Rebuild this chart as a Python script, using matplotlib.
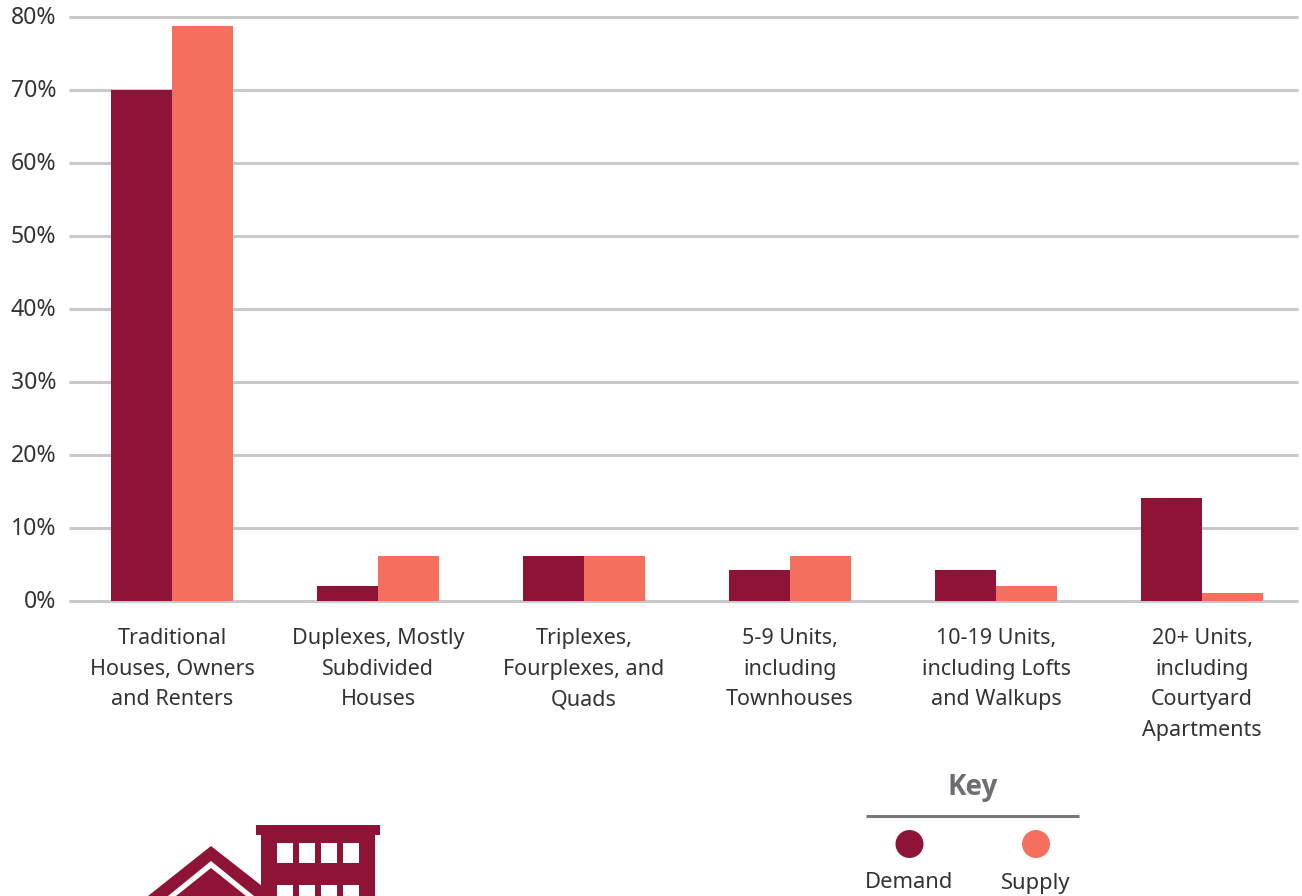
import numpy as np
from matplotlib import pyplot as plt
from matplotlib.patches import Polygon, Rectangle, Circle
from matplotlib.transforms import ScaledTranslation

W, H = 1302, 896
dark = '#8f1336'
coral = '#f46f5c'
grid = '#c8c8ca'
txt = '#333333'

plt.rcParams['font.family'] = ['Noto Sans', 'DejaVu Sans']

categories = ['Traditional\nHouses, Owners\nand Renters',
              'Duplexes, Mostly\nSubdivided\nHouses',
              'Triplexes,\nFourplexes, and\nQuads',
              '5-9 Units,\nincluding\nTownhouses',
              '10-19 Units,\nincluding Lofts\nand Walkups',
              '20+ Units,\nincluding\nCourtyard\nApartments']
demand = [70, 2, 6.2, 4.2, 4.2, 14.1]
supply = [78.7, 6.2, 6.2, 6.2, 2, 1.1]
yticks = [0, 10, 20, 30, 40, 50, 60, 70, 80]

fig = plt.figure(figsize=(W / 100, H / 100), dpi=100)

# chart area, in fractions of the figure
ax = fig.add_axes([69 / W, 1 - 601 / H, (1298 - 69) / W, (601 - 17) / H])
x = np.arange(len(categories))
bw = 0.296
ax.bar(x - bw / 2, demand, bw, color=dark, zorder=3)
ax.bar(x + bw / 2, supply, bw, color=coral, zorder=3)
ax.set_xlim(-0.5, 5.466)
ax.set_ylim(0, 80)
ax.set_yticks(yticks)
ax.set_yticklabels([str(v) + '%' for v in yticks], fontsize=16.6, color=txt)
ax.set_xticks(x)
ax.set_xticklabels(categories, fontsize=15.5, color=txt, linespacing=1.6)
ax.tick_params(axis='both', length=0)
ax.tick_params(axis='y', pad=9)
ax.tick_params(axis='x', pad=19.5)
ax.grid(axis='y', color=grid, lw=2.2, zorder=1, solid_capstyle='butt')
ax.set_axisbelow(True)
for s in ax.spines.values():
    s.set_visible(False)
for g in ax.get_ygridlines():
    g.set_clip_on(False)
# percent labels sit a little above their gridlines
up = ScaledTranslation(0, 2 / 100, fig.dpi_scale_trans)
for t in ax.get_yticklabels():
    t.set_transform(t.get_transform() + up)

# key and icon, drawn in pixel coordinates
ov = fig.add_axes([0, 0, 1, 1])
ov.set_xlim(0, W)
ov.set_ylim(H, 0)
ov.axis('off')
ov.patch.set_alpha(0)

ov.text(973, 788, 'Key', fontsize=20, fontweight='bold', family=['Open Sans', 'DejaVu Sans'],
        color='#6d6e71', ha='center', va='center')
ov.plot([866, 1079], [816.5, 816.5], color='#77787b', lw=2.2, solid_capstyle='butt')
ov.add_patch(Circle((909.5, 844), 14, color=dark, lw=0))
ov.add_patch(Circle((1036, 844), 14, color=coral, lw=0))
ov.text(909.5, 883, 'Demand', fontsize=15.8, color=txt, ha='center', va='center')
ov.text(1036, 883, 'Supply', fontsize=15.8, color=txt, ha='center', va='center')

# house and apartment icon, cut off by the bottom edge
ov.add_patch(Polygon([(148, 896), (211, 846), (262, 886), (262, 896)], color=dark, lw=0))
ov.add_patch(Polygon([(168, 896), (211, 861), (254, 896), (246, 896), (211, 868), (176, 896)], color='white', lw=0))
ov.add_patch(Rectangle((261, 830), 114, 66, color=dark, lw=0))
ov.add_patch(Rectangle((256, 825), 124, 10, color=dark, lw=0))
for wx in [277, 299, 321, 343]:
    ov.add_patch(Rectangle((wx, 843), 16, 20, color='white', lw=0))
    ov.add_patch(Rectangle((wx, 885), 16, 11, color='white', lw=0))

plt.savefig('out.png', dpi=100)
